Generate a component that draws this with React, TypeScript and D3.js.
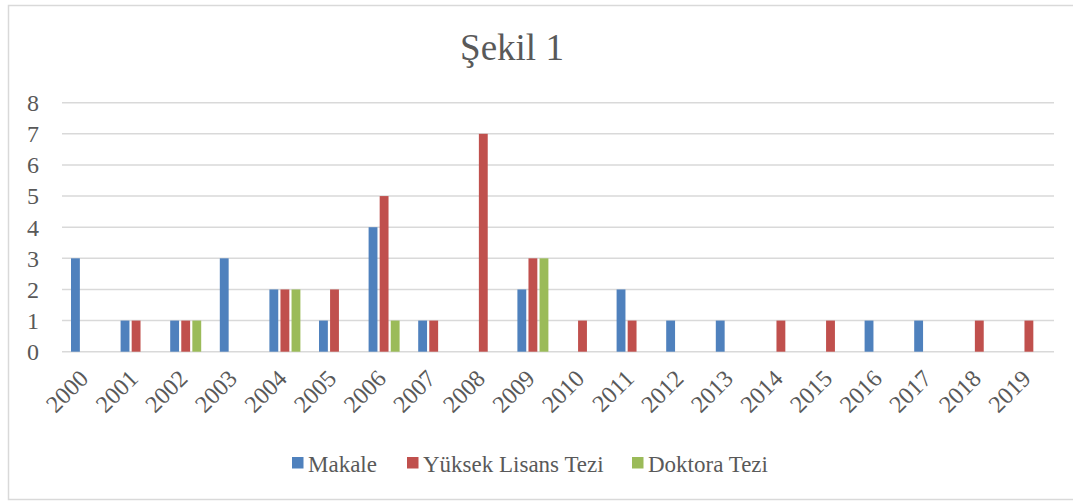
import React from "react";
import * as d3 from "d3";

const years = ["2000","2001","2002","2003","2004","2005","2006","2007","2008","2009","2010","2011","2012","2013","2014","2015","2016","2017","2018","2019"];
const seriesNames = ["Makale", "Yüksek Lisans Tezi", "Doktora Tezi"];
const makale = [3,1,1,3,2,1,4,1,0,2,0,2,1,1,0,0,1,1,0,0];
const yuksekLisans = [0,1,1,0,2,2,5,1,7,3,1,1,0,0,1,1,0,0,1,1];
const doktora = [0,0,1,0,2,0,1,0,0,3,0,0,0,0,0,0,0,0,0,0];
const yTicks = [0,1,2,3,4,5,6,7,8];
const colors = ["#4F81BD", "#C0504D", "#9BBB59"];
const title = "Şekil 1";

const W = 1073, H = 501;
const FONT = "'Liberation Serif', 'Times New Roman', serif";
const TXT = "#595959";

export default function App() {
  const values = [makale, yuksekLisans, doktora];
  const x0 = d3.scaleBand<string>().domain(years).range([62, 1054]).padding(0);
  const x1 = d3.scaleBand<string>().domain(seriesNames).range([9, 40]).paddingInner(0.2).paddingOuter(0);
  const y = d3.scaleLinear().domain([0, 8]).range([351.7, 102.7]);

  const legendX = [292, 407, 632];

  return (
    <svg width={W} height={H} style={{ position: "absolute", left: 0, top: 0, background: "#fff" }} fontFamily={FONT}>
      <rect x={8.5} y={5.5} width={1090} height={494} fill="#fff" stroke="#d9d9d9" strokeWidth={1.5} />
      <text x={512} y={60} textAnchor="middle" fontSize={37} fill={TXT}>{title}</text>
      {yTicks.map((t) => (
        <g key={t}>
          <line x1={62} x2={1054} y1={y(t)} y2={y(t)} stroke="#d9d9d9" strokeWidth={1.5} />
          <text x={39} y={y(t)} dy="0.35em" textAnchor="end" fontSize={24} fill={TXT}>{t}</text>
        </g>
      ))}
      {seriesNames.map((s, si) => (
        <g key={s} fill={colors[si]}>
          {years.map((yr, i) => {
            const v = values[si][i];
            if (!v) return null;
            return (
              <rect key={yr} x={(x0(yr) as number) + (x1(s) as number)} y={y(v)} width={x1.bandwidth()} height={y(0) - y(v)} />
            );
          })}
        </g>
      ))}
      {years.map((yr) => {
        const cx = (x0(yr) as number) + x0.bandwidth() / 2;
        return (
          <text key={yr} transform={`translate(${cx + 3},380) rotate(-45)`} textAnchor="end" fontSize={24} fill={TXT}>{yr}</text>
        );
      })}
      {seriesNames.map((s, si) => (
        <g key={s}>
          <rect x={legendX[si]} y={457} width={11.5} height={11.5} fill={colors[si]} />
          <text x={legendX[si] + 16} y={472} fontSize={23} fill={TXT}>{s}</text>
        </g>
      ))}
    </svg>
  );
}
